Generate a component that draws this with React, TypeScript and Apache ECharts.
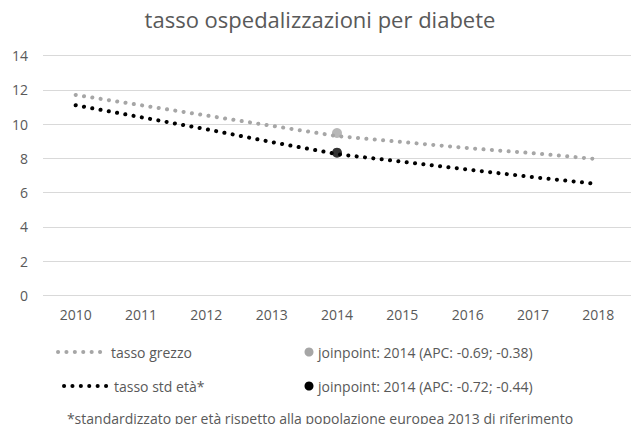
import React, { useEffect, useRef } from "react";
import * as echarts from "echarts";

const years = ["2010", "2011", "2012", "2013", "2014", "2015", "2016", "2017", "2018"];
const tassoGrezzo = [11.7, 11.1, 10.5, 9.9, 9.3, 8.95, 8.6, 8.3, 7.95];
const tassoStd = [11.1, 10.4, 9.7, 8.95, 8.25, 7.8, 7.35, 6.9, 6.5];
const joinGrezzo = [["2014", 9.48]];
const joinStd = [["2014", 8.33]];
const titleText = "tasso ospedalizzazioni per diabete";
const legendGrezzo = "tasso grezzo";
const legendStd = "tasso std età*";
const legendJoinGrezzo = "joinpoint: 2014 (APC: -0.69; -0.38)";
const legendJoinStd = "joinpoint: 2014 (APC: -0.72; -0.44)";
const footnote = "*standardizzato per età rispetto alla popolazione europea 2013 di riferimento";

const GRAY = "#A6A6A6";
const BLACK = "#000000";
const TEXT = "#595959";
const FONT = "'Open Sans', 'Noto Sans', sans-serif";

export default function App() {
  const ref = useRef<HTMLDivElement>(null);
  useEffect(() => {
    if (!ref.current) return;
    const chart = echarts.init(ref.current, null, { renderer: "svg" });
    const dotted = (color: string) => ({
      color,
      width: 4,
      type: [0.1, 8.3],
      cap: "round",
    });
    const txt = (text: string, x: number, y: number, size = 14, align = "left") => ({
      type: "text",
      x,
      y,
      style: { text, fill: TEXT, fontSize: size, fontFamily: FONT, align, verticalAlign: "middle" },
    });
    chart.setOption({
      animation: false,
      backgroundColor: "#ffffff",
      title: {
        text: titleText,
        left: "center",
        top: 3,
        textStyle: { color: TEXT, fontSize: 22, fontWeight: "normal", fontFamily: FONT },
      },
      grid: { left: 43, right: 9, top: 55.5, bottom: 136.5, containLabel: false },
      xAxis: {
        type: "category",
        data: years,
        boundaryGap: true,
        axisLine: { show: false },
        axisTick: { show: false },
        axisLabel: { color: TEXT, fontSize: 14, fontFamily: FONT, margin: 12 },
      },
      yAxis: {
        type: "value",
        min: 0,
        max: 14,
        interval: 2,
        axisLine: { show: false },
        axisTick: { show: false },
        axisLabel: { color: TEXT, fontSize: 14, fontFamily: FONT, margin: 15 },
        splitLine: { lineStyle: { color: "#D9D9D9", width: 1 } },
      },
      series: [
        {
          type: "line",
          data: tassoGrezzo,
          symbol: "none",
          lineStyle: dotted(GRAY),
          z: 2,
        },
        {
          type: "line",
          data: tassoStd,
          symbol: "none",
          lineStyle: dotted(BLACK),
          z: 2,
        },
        {
          type: "scatter",
          data: joinGrezzo,
          symbol: "circle",
          symbolSize: 10,
          itemStyle: { color: GRAY },
          z: 3,
        },
        {
          type: "scatter",
          data: joinStd,
          symbol: "circle",
          symbolSize: 10,
          itemStyle: { color: BLACK },
          z: 3,
        },
      ],
      graphic: [
        {
          type: "line",
          shape: { x1: 58, y1: 352, x2: 102, y2: 352 },
          style: { stroke: GRAY, lineWidth: 4, lineDash: [0.1, 8.3], lineCap: "round" },
        },
        txt(legendGrezzo, 111, 352),
        {
          type: "line",
          shape: { x1: 64, y1: 386, x2: 108, y2: 386 },
          style: { stroke: BLACK, lineWidth: 4, lineDash: [0.1, 8.3], lineCap: "round" },
        },
        txt(legendStd, 114, 386),
        {
          type: "circle",
          shape: { cx: 309, cy: 352, r: 4.5 },
          style: { fill: GRAY },
        },
        txt(legendJoinGrezzo, 318, 352),
        {
          type: "circle",
          shape: { cx: 309, cy: 386, r: 4.5 },
          style: { fill: BLACK },
        },
        txt(legendJoinStd, 318, 386),
        txt(footnote, 320, 418, 14, "center"),
      ],
    });
    return () => chart.dispose();
  }, []);
  return <div ref={ref} style={{ width: 640, height: 432, margin: -8 }} />;
}
